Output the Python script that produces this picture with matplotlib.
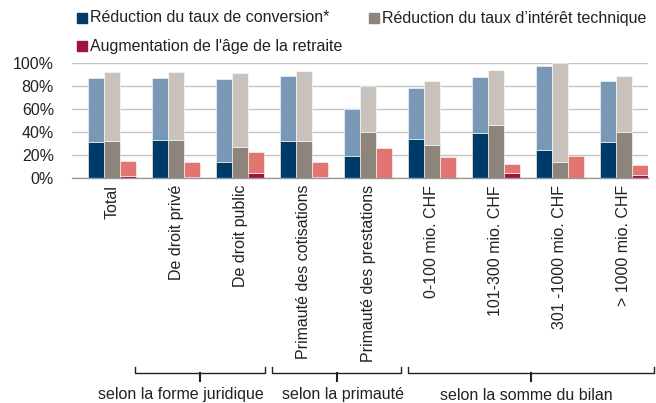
import matplotlib
matplotlib.use("Agg")
import matplotlib.pyplot as plt
import matplotlib.transforms as mtransforms
from matplotlib.patches import Rectangle
import numpy as np

plt.rcParams['font.family'] = ['Liberation Sans', 'DejaVu Sans']

categories = ["Total", "De droit privé", "De droit public",
              "Primauté des cotisations", "Primauté des prestations",
              "0-100 mio. CHF", "101-300 mio. CHF", "301 -1000 mio. CHF",
              "> 1000 mio. CHF"]
series_names = ["Réduction du taux de conversion*",
                "Réduction du taux d\u2019intérêt technique",
                "Augmentation de l'âge de la retraite"]
conv_total = [87, 87, 86, 89, 60, 78.5, 87.5, 97, 84]
conv_dark = [31, 33, 13.5, 32, 19.5, 33.5, 39.5, 24, 31]
tech_total = [92, 92, 91, 93, 80, 84, 93.5, 100, 88.5]
tech_dark = [32, 33, 27, 32, 40, 28.5, 46, 13.5, 40]
age_total = [14.5, 13.5, 23, 13.5, 26.5, 18.5, 12, 19, 11]
age_dark = [1.5, 1.2, 4, 1.2, 0, 0, 4, 0, 2.3]
yticks = [0, 20, 40, 60, 80, 100]
groups = [("selon la forme juridique", 0.36, 2.39, 1.08),
          ("selon la primauté", 2.50, 4.52, 3.61),
          ("selon la somme du bilan", 4.62, 8.47, 6.48)]

W, H = 656, 403
fig = plt.figure(figsize=(W / 100, H / 100), dpi=100)
ax = fig.add_axes([72 / W, (H - 178) / H, (648 - 72) / W, (178 - 63) / H])

x = np.arange(len(categories))
bw = 0.25
dark_cols = ["#003a66", "#8d847b", "#a0143a"]
light_cols = ["#7898b5", "#c9c1bb", "#e07571"]
data = [(conv_dark, conv_total), (tech_dark, tech_total), (age_dark, age_total)]
for k, (dk, tot) in enumerate(data):
    dk = np.array(dk)
    tot = np.array(tot)
    pos = x + (k - 1) * bw
    ax.bar(pos, dk, bw, color=dark_cols[k], edgecolor="white", linewidth=0.4, zorder=3)
    ax.bar(pos, tot - dk, bw, bottom=dk, color=light_cols[k], edgecolor="white",
           linewidth=0.4, zorder=3)

ax.set_xlim(-0.625, 8.375)
ax.set_ylim(0, 100)
ax.set_yticks(yticks)
ax.set_yticklabels([f"{v}%" for v in yticks], fontsize=11.5, color="#222222")
ax.set_xticks(x)
ax.set_xticklabels(categories, rotation=90, fontsize=11.5, color="#222222", va="top")
ax.tick_params(axis="both", length=0)
ax.tick_params(axis="y", pad=13)
ax.tick_params(axis="x", pad=5)
ax.grid(axis="y", color="#c4c4c4", linewidth=1, zorder=0)
for s in ["top", "right", "left"]:
    ax.spines[s].set_visible(False)
ax.spines["bottom"].set_color("#999999")
ax.spines["bottom"].set_linewidth(1)
ax.spines["bottom"].set_zorder(4)

# legend
def fy(py):
    return (H - py) / H

legend_pos = [(77, 18), (369, 18), (77, 46)]
for k, (lx, ly) in enumerate(legend_pos):
    fig.patches.append(Rectangle((lx / W, fy(ly + 5)), 10 / W, 10 / H,
                                 transform=fig.transFigure, color=dark_cols[k]))
    fig.text((lx + 13) / W, fy(ly), series_names[k], fontsize=11.5,
             color="#222222", va="center", ha="left")

# brackets
tr = mtransforms.blended_transform_factory(ax.transData, fig.transFigure)
for label, x0, x1, xc in groups:
    xm = (x0 + x1) / 2
    ax.plot([x0, x0, x1, x1], [fy(367), fy(373), fy(373), fy(367)], color="#222222",
            lw=1, transform=tr, clip_on=False)
    ax.plot([xm, xm], [fy(373), fy(381)], color="#222222", lw=1.5, transform=tr,
            clip_on=False)
    ax.text(xc, fy(395), label, transform=tr, ha="center", va="center",
            fontsize=11.5, color="#222222")

fig.savefig("out.png", dpi=100)
